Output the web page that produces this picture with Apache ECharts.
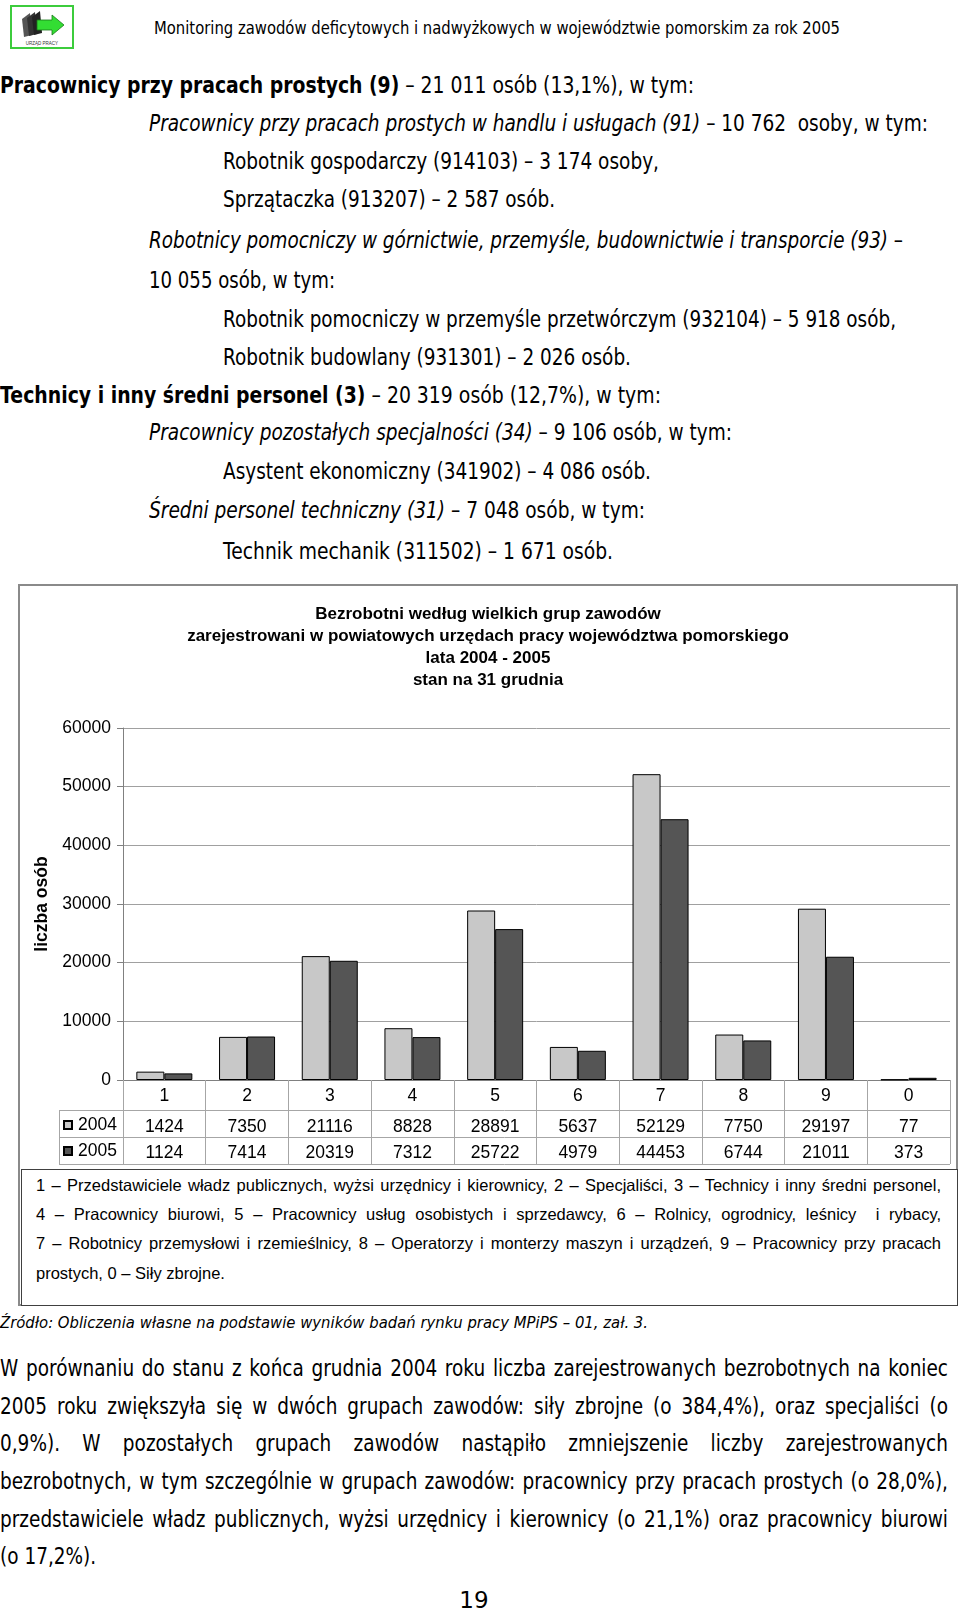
<!DOCTYPE html>
<html><head><meta charset="utf-8">
<script src="https://cdn.jsdelivr.net/npm/echarts@6/dist/echarts.min.js"></script>
<style>
html,body{margin:0;padding:0;background:#fff;}
body{width:960px;height:1611px;position:relative;overflow:hidden;}
.t{position:absolute;white-space:nowrap;font-family:"DejaVu Sans",sans-serif;font-size:23px;line-height:30px;color:#000;transform-origin:0 50%;}
.b{font-weight:bold;}
.i{font-style:italic;}
.lg{position:absolute;white-space:nowrap;font-family:"Liberation Sans",Arial,sans-serif;font-size:16.5px;line-height:20px;color:#000;transform-origin:0 50%;}
#frame{position:absolute;left:18px;top:584px;width:940px;height:722px;border:2px solid #8a8a8a;box-sizing:border-box;}
#lbox{position:absolute;left:21px;top:1169px;width:937px;height:137px;border:1px solid #404040;box-sizing:border-box;background:#fff;}
#chart{position:absolute;left:18px;top:584px;width:940px;height:585px;}
</style></head>
<body>
<svg style="position:absolute;left:10px;top:5px" width="64" height="44" viewBox="0 0 64 44">
  <rect x="1" y="1" width="62" height="42" fill="#fff" stroke="#3ccc3c" stroke-width="2"/>
  <polygon points="12,14 20,8 22,30 14,32" fill="#555"/>
  <polygon points="17,13 25,7 27,29 19,31" fill="#333"/>
  <polygon points="22,12 30,6 32,28 24,30" fill="#222"/>
  <polygon points="27,15 42,15 42,10 54,20 42,30 42,25 27,25" fill="#33dd33" stroke="#1a7a1a" stroke-width="0.8"/>
  <text x="32" y="40" font-size="4.5" text-anchor="middle" font-family="Liberation Sans" fill="#333">URZĄD PRACY</text>
</svg>
<div class="t" style="left:154px;top:16px;font-size:18px;line-height:24px" data-w="686" data-g="h">Monitoring zawodów deficytowych i nadwyżkowych w województwie pomorskim za rok 2005</div>

<div class="t" style="left:0px;top:70px" data-w="694" data-g="body"><span class="b">Pracownicy przy pracach prostych (9)</span> – 21 011 osób (13,1%), w tym:</div>
<div class="t" style="left:149px;top:108px" data-w="779" data-g="body"><span class="i">Pracownicy przy pracach prostych w handlu i usługach (91)</span> – 10 762&nbsp; osoby, w tym:</div>
<div class="t" style="left:223px;top:146px" data-w="436" data-g="body" data-r="1">Robotnik gospodarczy (914103) – 3 174 osoby,</div>
<div class="t" style="left:223px;top:184px" data-w="332" data-g="body" data-r="1">Sprzątaczka (913207) – 2 587 osób.</div>
<div class="t" style="left:149px;top:225px" data-w="754" data-g="body"><span class="i">Robotnicy pomocniczy w górnictwie, przemyśle, budownictwie i transporcie (93)</span> –</div>
<div class="t" style="left:149px;top:265px" data-w="186" data-g="body" data-r="1">10 055 osób, w tym:</div>
<div class="t" style="left:223px;top:304px" data-w="673" data-g="body" data-r="1">Robotnik pomocniczy w przemyśle przetwórczym (932104) – 5 918 osób,</div>
<div class="t" style="left:223px;top:342px" data-w="408" data-g="body" data-r="1">Robotnik budowlany (931301) – 2 026 osób.</div>
<div class="t" style="left:0px;top:380px" data-w="661" data-g="body"><span class="b">Technicy i inny średni personel (3)</span> – 20 319 osób (12,7%), w tym:</div>
<div class="t" style="left:149px;top:417px" data-w="583" data-g="body"><span class="i">Pracownicy pozostałych specjalności (34)</span> – 9 106 osób, w tym:</div>
<div class="t" style="left:223px;top:456px" data-w="428" data-g="body" data-r="1">Asystent ekonomiczny (341902) – 4 086 osób.</div>
<div class="t" style="left:149px;top:495px" data-w="496" data-g="body"><span class="i">Średni personel techniczny (31)</span> – 7 048 osób, w tym:</div>
<div class="t" style="left:223px;top:536px" data-w="390" data-g="body" data-r="1">Technik mechanik (311502) – 1 671 osób.</div>

<div id="frame"></div>
<div id="chart"></div>
<div id="lbox"></div>
<div class="lg" style="left:36px;top:1175px" data-j="905">1 – Przedstawiciele władz publicznych, wyżsi urzędnicy i kierownicy, 2 – Specjaliści, 3 – Technicy i inny średni personel,</div>
<div class="lg" style="left:36px;top:1204px" data-j="905">4 – Pracownicy biurowi, 5 – Pracownicy usług osobistych i sprzedawcy, 6 – Rolnicy, ogrodnicy, leśnicy &nbsp;i rybacy,</div>
<div class="lg" style="left:36px;top:1233px" data-j="905">7 – Robotnicy przemysłowi i rzemieślnicy, 8 – Operatorzy i monterzy maszyn i urządzeń, 9 – Pracownicy przy pracach</div>
<div class="lg" style="left:36px;top:1263px">prostych, 0 – Siły zbrojne.</div>

<div class="t i" style="left:0px;top:1311px;font-size:16px;line-height:24px" data-w="648" data-g="src">Źródło: Obliczenia własne na podstawie wyników badań rynku pracy MPiPS – 01, zał. 3.</div>

<div class="t" style="left:0px;top:1353px" data-j="948" data-g="par">W porównaniu do stanu z końca grudnia 2004 roku liczba zarejestrowanych bezrobotnych na koniec</div>
<div class="t" style="left:0px;top:1391px" data-j="948" data-g="par">2005 roku zwiększyła się w dwóch grupach zawodów: siły zbrojne (o 384,4%), oraz specjaliści (o</div>
<div class="t" style="left:0px;top:1428px" data-j="948" data-g="par">0,9%). W pozostałych grupach zawodów nastąpiło zmniejszenie liczby zarejestrowanych</div>
<div class="t" style="left:0px;top:1466px" data-j="948" data-g="par">bezrobotnych, w tym szczególnie w grupach zawodów: pracownicy przy pracach prostych (o 28,0%),</div>
<div class="t" style="left:0px;top:1504px" data-j="948" data-g="par">przedstawiciele władz publicznych, wyżsi urzędnicy i kierownicy (o 21,1%) oraz pracownicy biurowi</div>
<div class="t" style="left:0px;top:1541px" data-g="par" data-p="1">(o 17,2%).</div>
<div class="t" style="left:424px;top:1585px;width:100px;text-align:center">19</div>

<script>
// ---- data ----
const categories = ['1', '2', '3', '4', '5', '6', '7', '8', '9', '0'];
const seriesNames = ['2004', '2005'];
const values2004 = [1424, 7350, 21116, 8828, 28891, 5637, 52129, 7750, 29197, 77];
const values2005 = [1124, 7414, 20319, 7312, 25722, 4979, 44453, 6744, 21011, 373];
const yMin = 0, yMax = 60000, yInterval = 10000;
const titleLines = [
  'Bezrobotni według wielkich grup zawodów',
  'zarejestrowani w powiatowych urzędach pracy województwa pomorskiego',
  'lata 2004 - 2005',
  'stan na 31 grudnia'
];
const yAxisName = 'liczba osób';

// ---- text fitting ----
function fitText() {
  const scales = {};
  document.querySelectorAll('[data-w]').forEach(el => {
    el.style.transform = 'none';
    const nat = el.getBoundingClientRect().width;
    const s = (+el.dataset.w) / nat;
    el.style.transform = 'scaleX(' + s + ')';
    if (el.dataset.r) (scales.body = scales.body || []).push(s);
  });
  const arr = (scales.body || [0.8]).slice().sort((a, b) => a - b);
  const sBody = arr[Math.floor(arr.length / 2)];
  document.querySelectorAll('[data-g="par"]').forEach(el => {
    if (el.dataset.p) { el.style.transform = 'scaleX(' + sBody + ')'; return; }
    const target = +el.dataset.j;
    el.style.transform = 'none';
    const nat = el.getBoundingClientRect().width;
    let s = sBody;
    if (nat * s > target) s = target / nat;
    el.style.width = (target / s) + 'px';
    el.style.whiteSpace = 'normal';
    el.style.textAlign = 'justify';
    el.style.textAlignLast = 'justify';
    el.style.height = '30px';
    el.style.overflow = 'visible';
    el.style.transform = 'scaleX(' + s + ')';
  });
  document.querySelectorAll('.lg[data-j]').forEach(el => {
    const target = +el.dataset.j;
    const nat = el.getBoundingClientRect().width;
    let s = Math.min(1, target / nat);
    el.style.width = (target / s) + 'px';
    el.style.whiteSpace = 'normal';
    el.style.textAlign = 'justify';
    el.style.textAlignLast = 'justify';
    el.style.transform = 'scaleX(' + s + ')';
  });
}
fitText();

// ---- chart ----
const FONT = '"Liberation Sans", Arial, sans-serif';
const LBL = 17.5;
const chart = echarts.init(document.getElementById('chart'), null, { renderer: 'canvas' });
const axisLabelBase = { fontFamily: FONT, fontSize: LBL, color: '#000', interval: 0 };
const tableLine = '#a6a6a6';
const option = {
  animation: false,
  title: {
    text: titleLines.join('\n'),
    left: 'center', top: 14,
    textStyle: { fontFamily: FONT, fontWeight: 'bold', fontSize: 17, lineHeight: 22, color: '#000' }
  },
  legend: [
    { data: [seriesNames[0]], left: 45, top: 532, padding: 0, icon: 'rect', itemWidth: 8, itemHeight: 8,
      textStyle: { fontFamily: FONT, fontSize: LBL, color: '#000', padding: [0, 0, 0, 1] }, selectedMode: false },
    { data: [seriesNames[1]], left: 45, top: 558, padding: 0, icon: 'rect', itemWidth: 8, itemHeight: 8,
      textStyle: { fontFamily: FONT, fontSize: LBL, color: '#000', padding: [0, 0, 0, 1] }, selectedMode: false }
  ],
  grid: { left: 105, top: 144, width: 827, height: 352 },
  xAxis: [
    { type: 'category', data: categories, position: 'bottom',
      axisLine: { lineStyle: { color: '#808080', width: 1 } },
      axisTick: { show: true, length: 30, interval: 0, lineStyle: { color: tableLine } },
      axisLabel: Object.assign({ margin: 7 }, axisLabelBase) },
    { type: 'category', data: values2004.map(String), position: 'bottom', offset: 30,
      axisLine: { show: false },
      axisTick: { show: true, length: 27, interval: 0, lineStyle: { color: tableLine } },
      axisLabel: Object.assign({ margin: 8 }, axisLabelBase) },
    { type: 'category', data: values2005.map(String), position: 'bottom', offset: 57,
      axisLine: { show: false },
      axisTick: { show: true, length: 27, interval: 0, lineStyle: { color: tableLine } },
      axisLabel: Object.assign({ margin: 7 }, axisLabelBase) }
  ],
  yAxis: {
    type: 'value', min: yMin, max: yMax, interval: yInterval,
    name: yAxisName, nameLocation: 'middle', nameRotate: 90, nameGap: 69,
    nameTextStyle: { fontFamily: FONT, fontWeight: 'bold', fontSize: 17.5, color: '#000' },
    axisLine: { show: true, lineStyle: { color: '#808080' } },
    axisTick: { show: true, length: 6, lineStyle: { color: '#808080' } },
    splitLine: { show: true, lineStyle: { color: '#a0a0a0' } },
    axisLabel: { fontFamily: FONT, fontSize: LBL, color: '#000', margin: 12, formatter: v => String(v) }
  },
  graphic: [
    { type: 'line', shape: { x1: 41, y1: 526.5, x2: 932, y2: 526.5 }, style: { stroke: tableLine, lineWidth: 1 } },
    { type: 'line', shape: { x1: 41, y1: 553.5, x2: 932, y2: 553.5 }, style: { stroke: tableLine, lineWidth: 1 } },
    { type: 'line', shape: { x1: 41, y1: 580.5, x2: 932, y2: 580.5 }, style: { stroke: tableLine, lineWidth: 1 } },
    { type: 'line', shape: { x1: 41.5, y1: 526, x2: 41.5, y2: 581 }, style: { stroke: tableLine, lineWidth: 1 } }
  ],
  series: [
    { name: seriesNames[0], type: 'bar', xAxisIndex: 0, data: values2004, barWidth: 28, barGap: '0%',
      itemStyle: { color: '#c8c8c8', borderColor: '#000', borderWidth: 1 } },
    { name: seriesNames[1], type: 'bar', xAxisIndex: 0, data: values2005, barWidth: 28, barGap: '0%',
      itemStyle: { color: '#555555', borderColor: '#000', borderWidth: 1 } }
  ]
};
chart.setOption(option);
</script>
</body></html>
